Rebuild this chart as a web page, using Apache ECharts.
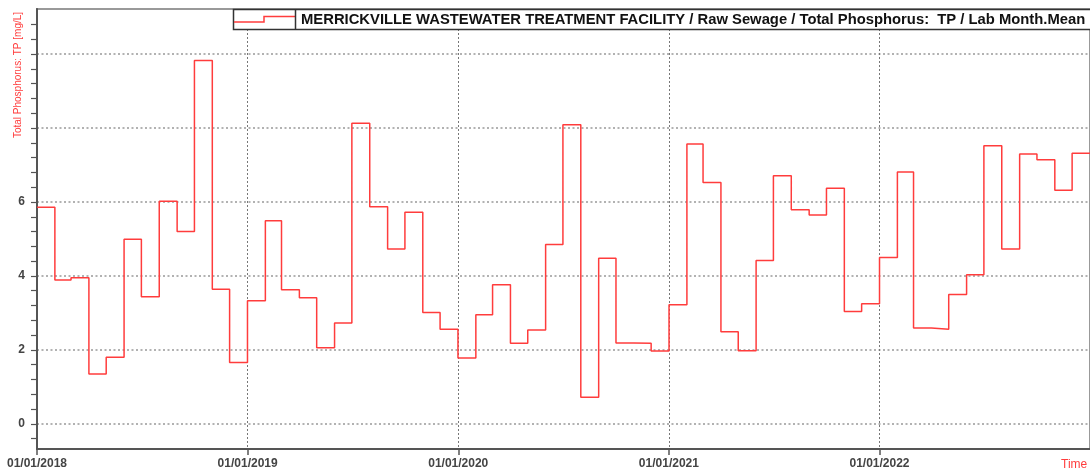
<!DOCTYPE html>
<html>
<head>
<meta charset="utf-8">
<title>Merrickville TP</title>
<script src="https://cdn.jsdelivr.net/npm/echarts@6/dist/echarts.min.js"></script>
<style>
  html, body { margin: 0; padding: 0; background: #fff; }
  #main { width: 1090px; height: 472px; }
</style>
</head>
<body>
<div id="main"></div>
<script>
// monthly mean total phosphorus [mg/L], one array per year (Jan..Dec)
const years = [2018, 2019, 2020, 2021, 2022];
const tp2018 = [5.86, 3.89, 3.95, 1.35, 1.80, 4.99, 3.44, 6.02, 5.20, 9.83, 3.64, 1.66];
const tp2019 = [3.33, 5.49, 3.63, 3.41, 2.06, 2.73, 8.13, 5.87, 4.73, 5.72, 3.01, 2.56];
const tp2020 = [1.78, 2.95, 3.76, 2.18, 2.54, 4.85, 8.09, 0.72, 4.48, 2.19, 2.18, 1.97];
const tp2021 = [3.22, 7.57, 6.53, 2.49, 1.98, 4.42, 6.71, 5.79, 5.65, 6.37, 3.04, 3.25];
const tp2022 = [4.50, 6.81, 2.59, 2.56, 3.50, 4.03, 7.52, 4.73, 7.30, 7.14, 6.32, 7.32];
const tpByYear = [tp2018, tp2019, tp2020, tp2021, tp2022];

// axis ticks / labels
const yLabelValues = [0, 2, 4, 6];
const yGridValues = [0, 2, 4, 6, 8, 10];
const yMinorStep = 0.4;

const legendText = 'MERRICKVILLE WASTEWATER TREATMENT FACILITY / Raw Sewage / Total Phosphorus:  TP / Lab Month.Mean';
const yTitle = 'Total Phosphorus: TP [mg/L]';
const xTitle = 'Time [dd/mm/yyyy]';

const DAY = 86400000;
const YEAR = 365.25 * DAY;
const xMin = Date.UTC(2018, 0, 1);
const xMax = Date.UTC(2023, 0, 1);

// build [time, value] points, month start dates
const points = [];
years.forEach(function (y, i) {
    tpByYear[i].forEach(function (v, m) {
        points.push([Date.UTC(y, m, 1), v]);
    });
});
// hold the last month until the end of the axis
points.push([xMax, points[points.length - 1][1]]);

const yTicks = [];
for (let v = -yMinorStep; v < 11; v += yMinorStep) {
    yTicks.push(Math.round(v * 10) / 10);
}

function pad(n) { return n < 10 ? '0' + n : '' + n; }
function fmtDate(val) {
    // ticks are 365.25 days apart, snap back to the 1st of January
    const d = new Date(Math.floor(val / DAY + 0.3) * DAY);
    return pad(d.getUTCDate()) + '/' + pad(d.getUTCMonth() + 1) + '/' + d.getUTCFullYear();
}

const font = "'Liberation Sans', Arial, sans-serif";
const red = '#ff3c3c';

var myChart = echarts.init(document.getElementById('main'));

var option = {
    animation: false,
    textStyle: { fontFamily: font },
    grid: {
        left: 37,
        top: 9,
        width: 1055,
        height: 440,
        show: true,
        borderColor: '#999',
        borderWidth: 2,
        backgroundColor: '#fff'
    },
    xAxis: {
        type: 'value',
        min: xMin,
        max: xMax,
        interval: YEAR,
        axisLine: { onZero: false, lineStyle: { color: '#555', width: 2 } },
        axisTick: { length: 6, lineStyle: { color: '#555', width: 1.5 } },
        axisLabel: {
            formatter: fmtDate,
            showMaxLabel: false,
            margin: 9,
            color: '#444',
            fontWeight: 'bold',
            fontSize: 12,
            fontFamily: font
        },
        splitLine: { show: true, lineStyle: { color: '#777', width: 1, type: [2, 2] } }
    },
    yAxis: [
        {
            type: 'value',
            min: -0.68,
            max: 11.22,
            axisLine: { show: true, onZero: false, lineStyle: { color: '#555', width: 2 } },
            axisTick: { show: true, length: 6, customValues: yTicks, lineStyle: { color: '#555', width: 1.2 } },
            axisLabel: {
                customValues: yLabelValues,
                margin: 12,
                color: '#444',
                fontWeight: 'bold',
                fontSize: 12,
                fontFamily: font
            },
            splitLine: { show: false }
        },
        {
            type: 'value',
            min: -0.68,
            max: 11.22,
            position: 'right',
            axisLine: { show: false },
            axisTick: { show: false, customValues: yGridValues },
            axisLabel: { show: false },
            splitLine: { show: true, lineStyle: { color: '#999', width: 1.5, type: [2, 2.5] } }
        }
    ],
    series: [
        {
            name: 'TP',
            type: 'line',
            step: 'end',
            yAxisIndex: 0,
            data: points,
            showSymbol: false,
            symbol: 'none',
            lineStyle: { color: red, width: 1.5 },
            z: 5
        }
    ],
    graphic: [
        // y axis title
        {
            type: 'text',
            x: 18,
            y: 75,
            rotation: Math.PI / 2,
            style: {
                text: yTitle,
                fill: red,
                font: '10px ' + font,
                align: 'center',
                verticalAlign: 'middle'
            }
        },
        // x axis title (cut by the right edge)
        {
            type: 'text',
            x: 1061,
            y: 465,
            style: {
                text: xTitle,
                fill: red,
                font: '12px ' + font,
                align: 'left',
                verticalAlign: 'middle'
            }
        },
        // legend box
        {
            type: 'rect',
            shape: { x: 233.5, y: 9.5, width: 900, height: 20 },
            style: { fill: '#fff', stroke: '#333', lineWidth: 1.5 },
            z: 10
        },
        {
            type: 'polyline',
            shape: { points: [[234, 22], [264, 22], [264, 16.5], [295, 16.5]] },
            style: { fill: null, stroke: red, lineWidth: 1.5 },
            z: 11
        },
        {
            type: 'line',
            shape: { x1: 295.5, y1: 9.5, x2: 295.5, y2: 29.5 },
            style: { stroke: '#333', lineWidth: 1.5 },
            z: 11
        },
        {
            type: 'text',
            x: 301,
            y: 20,
            style: {
                text: legendText,
                fill: '#111',
                font: 'bold 14.8px ' + font,
                align: 'left',
                verticalAlign: 'middle'
            },
            z: 11
        }
    ]
};

myChart.setOption(option);
</script>
</body>
</html>
